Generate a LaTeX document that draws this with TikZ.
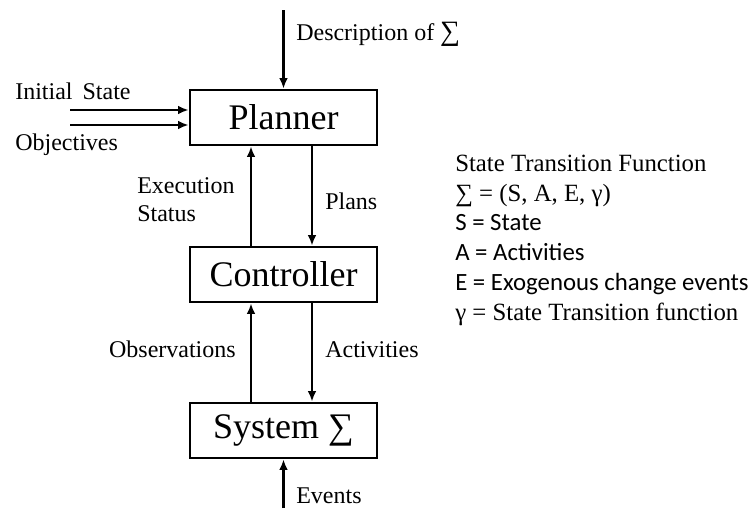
\documentclass[tikz,border=0pt]{standalone}
\usepackage{fontspec}
\setmainfont{Liberation Serif}
\newfontfamily\calib{Carlito}
\usetikzlibrary{arrows.meta}
\begin{document}
\begin{tikzpicture}[x=0.75pt,y=-0.75pt,
  block/.style={draw,line width=1.9pt,minimum width=140.25pt,minimum height=41.25pt,inner sep=0pt,font=\fontsize{27}{30}\selectfont},
  flow/.style={line width=1.65pt,-{Latex[length=8pt,width=6.5pt]}},
  lbl/.style={font=\fontsize{18}{21}\selectfont,inner sep=0pt},
  note/.style={anchor=base west,inner sep=0pt,font=\fontsize{18.6}{21}\selectfont},
  notec/.style={anchor=base west,inner sep=0pt,font=\calib\fontsize{18.6}{21}\selectfont}]
\useasboundingbox (0,0) rectangle (753,508);
% blocks
\node[block] (plan) at (283.5,117.5) {Planner};
\node[block] (ctrl) at (283.5,274.5) {Controller};
\node[block] (sys)  at (283.5,430.5) {System ∑};
% external inputs
\coordinate (desc) at (283.5,10);
\coordinate (ev) at (283.5,508);
\coordinate (is) at (70,110);
\coordinate (ob) at (70,125);
\draw[flow] (desc) -- (plan.north);
\draw[flow] (ev) -- (sys.south);
\draw[flow] (is) -- (is -| plan.west);
\draw[flow] (ob) -- (ob -| plan.west);
% vertical links
\draw[flow] (ctrl.north -| 251,0) -- (plan.south -| 251,0);
\draw[flow] (plan.south -| 312,0) -- (ctrl.north -| 312,0);
\draw[flow] (sys.north -| 251,0) -- (ctrl.south -| 251,0);
\draw[flow] (ctrl.south -| 312,0) -- (sys.north -| 312,0);
% labels
\node[lbl,anchor=base west] (ldesc) at (296,40) {Description of \fontsize{21}{21}\selectfont∑};
\node[lbl,anchor=base west] (lis) at (15,99) {Initial\, State};
\node[lbl,anchor=base west] (lob) at (15,150) {Objectives};
\node[lbl,anchor=base west] (lex) at (137,193) {Execution};
\node[lbl,anchor=base west] (lst) at (137,221) {Status};
\node[lbl,anchor=base west] (lpl) at (325,209) {Plans};
\node[lbl,anchor=base east] (lobs) at (236,357) {Observations};
\node[lbl,anchor=base west] (lact) at (325,357) {Activities};
\node[lbl,anchor=base west] (lev) at (296,503) {Events};
% legend
\node[note] (n1) at (455,171) {State Transition Function};
\node[note] (n2) at (455,201) {∑ = (S, A, E, γ)};
\node[notec] (n3) at (455,230) {S = State};
\node[notec] (n4) at (455,260) {A = Activities};
\node[notec] (n5) at (455,290) {E = Exogenous change events};
\node[note] (n6) at (455,320) {γ = State Transition function};
\end{tikzpicture}
\end{document}
